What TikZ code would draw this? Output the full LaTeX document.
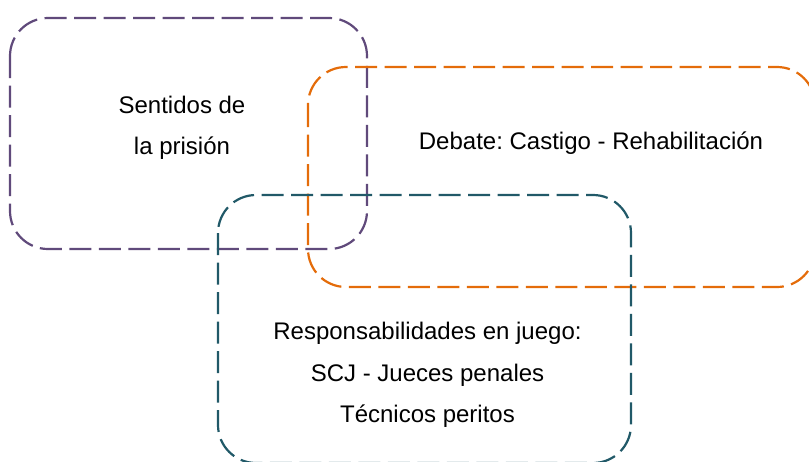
\documentclass[tikz,border=0pt]{standalone}
\usepackage{fontspec}
\setmainfont{Liberation Sans}
\frenchspacing
\definecolor{sentidoscol}{HTML}{604A7B}
\definecolor{debatecol}{HTML}{E46C0A}
\definecolor{respcol}{HTML}{215968}
\tikzset{
  area/.style={line width=1.1pt, dash pattern=on 11pt off 3.75pt, rounded corners=19pt},
  areatext/.style={align=center, font=\fontsize{12}{20.75}\selectfont}
}
\begin{document}
\begin{tikzpicture}[x=0.5pt,y=-0.5pt]
    \useasboundingbox (0,0) rectangle (809,461);

    % Sentidos de la prision
    \draw[area,sentidoscol] (10,18) rectangle (367,249);
    \node[areatext] (sentidos) at (182,128) {Sentidos de\\la prisión};

    % Debate
    \draw[area,debatecol] (308,67) rectangle (815,287);
    \node[areatext] (debate) at (591,143) {Debate: Castigo - Rehabilitación};

    % Responsabilidades
    \draw[area,respcol] (218,195) rectangle (631,463);
    \node[areatext] (resp) at (427.5,375) {Responsabilidades en juego:\\SCJ - Jueces penales\\Técnicos peritos};
\end{tikzpicture}
\end{document}
